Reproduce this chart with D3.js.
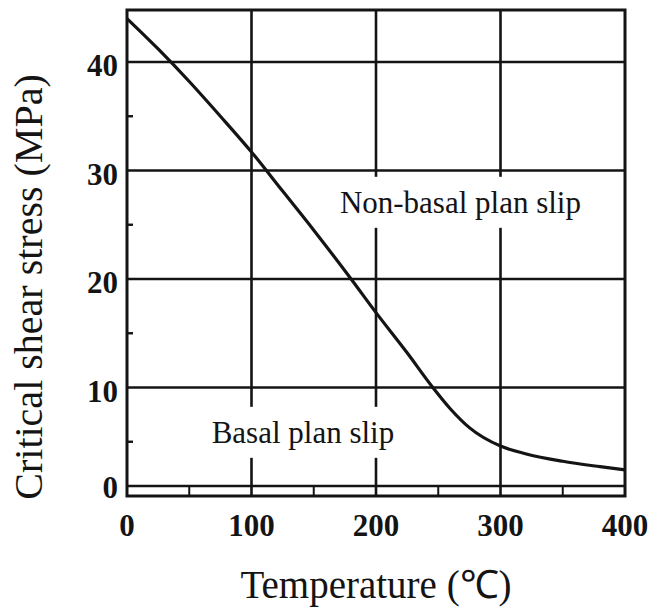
<!DOCTYPE html>
<html>
<head>
<meta charset="utf-8">
<script src="https://cdn.jsdelivr.net/npm/d3@7"></script>
<style>
  html, body { margin: 0; padding: 0; background: #fff; }
  svg { display: block; }
</style>
</head>
<body>
<svg id="chart" width="654" height="611"></svg>
<script>
// Critical resolved shear stress vs. temperature
const temperature = [0, 25, 50, 75, 100, 125, 150, 180, 200, 225, 245, 260, 275, 300, 320, 350, 380, 400];
const shearStress = [44.0, 41.2, 38.2, 35.0, 31.7, 28.1, 24.5, 20.0, 16.9, 13.2, 10.1, 8.0, 6.3, 4.6, 3.9, 3.2, 2.7, 2.4];

const xTicks = [0, 100, 200, 300, 400];
const xMinorTicks = [50, 150, 250, 350];
const yTicks = [0, 10, 20, 30, 40];
const yGrid = [10, 20, 30, 40];
const yMinorTicks = [5, 15, 25, 35];

const xTitle = "Temperature (\u2103)";
const yTitle = "Critical shear stress (MPa)";
// region labels anchored at (temperature, stress) of their left baseline point
const regionLabels = [
  { text: "Non-basal plan slip", t: 171, s: 26.1 },
  { text: "Basal plan slip", t: 68, s: 4.9 }
];

const ink = "#141414";
const serif = "'Liberation Serif', 'Times New Roman', serif";

const svg = d3.select("#chart");
const plot = { left: 127, right: 625, top: 10, bottom: 496 };

const x = d3.scaleLinear().domain([0, 400]).range([plot.left, plot.right]);
const y = d3.scaleLinear().domain([0, 40]).range([plot.bottom, 62]);
const ruleOffset = 10; // inner rule drawn just above the bottom frame
const ruleY = plot.bottom - ruleOffset;

const g = svg.append("g");

// horizontal grid lines
g.selectAll("line.hgrid").data(yGrid).join("line")
  .attr("x1", plot.left).attr("x2", plot.right)
  .attr("y1", d => y(d)).attr("y2", d => y(d))
  .attr("stroke", ink).attr("stroke-width", 2.6);

// vertical grid lines
g.selectAll("line.vgrid").data(xTicks.slice(1, -1)).join("line")
  .attr("x1", d => x(d)).attr("x2", d => x(d))
  .attr("y1", plot.top).attr("y2", plot.bottom)
  .attr("stroke", ink).attr("stroke-width", 2.6);

// inner rule and minor ticks along the bottom
g.append("line")
  .attr("x1", plot.left).attr("x2", plot.right)
  .attr("y1", ruleY).attr("y2", ruleY)
  .attr("stroke", ink).attr("stroke-width", 2.6);
g.selectAll("line.xminor").data(xMinorTicks).join("line")
  .attr("x1", d => x(d)).attr("x2", d => x(d))
  .attr("y1", ruleY).attr("y2", plot.bottom)
  .attr("stroke", ink).attr("stroke-width", 2);

// minor ticks on the left edge
g.selectAll("line.yminor").data(yMinorTicks).join("line")
  .attr("x1", plot.left).attr("x2", plot.left + 6)
  .attr("y1", d => y(d)).attr("y2", d => y(d))
  .attr("stroke", ink).attr("stroke-width", 2.4);

// region labels on white patches that interrupt the grid
regionLabels.forEach(lab => {
  const t = g.append("text")
    .attr("x", x(lab.t)).attr("y", y(lab.s))
    .attr("font-family", serif).attr("font-size", 31)
    .attr("fill", ink)
    .text(lab.text);
  const bb = t.node().getBBox();
  g.insert("rect", () => t.node())
    .attr("x", bb.x - 6).attr("y", bb.y - 8)
    .attr("width", bb.width + 12).attr("height", bb.height + 16)
    .attr("fill", "#fff");
});

// frame
g.append("rect")
  .attr("x", plot.left).attr("y", plot.top)
  .attr("width", plot.right - plot.left).attr("height", plot.bottom - plot.top)
  .attr("fill", "none").attr("stroke", ink).attr("stroke-width", 3);

// the curve
const line = d3.line()
  .x((d, i) => x(temperature[i]))
  .y(d => y(d))
  .curve(d3.curveMonotoneX);
g.append("path")
  .datum(shearStress)
  .attr("d", line)
  .attr("fill", "none").attr("stroke", ink).attr("stroke-width", 3.2)
  .attr("stroke-linejoin", "round");

// tick labels
g.selectAll("text.xt").data(xTicks).join("text")
  .attr("x", d => x(d)).attr("y", 536)
  .attr("text-anchor", "middle")
  .attr("font-family", serif).attr("font-weight", "bold").attr("font-size", 31)
  .attr("fill", ink)
  .text(d => d);

g.selectAll("text.yt").data(yTicks).join("text")
  .attr("x", 118)
  .attr("y", d => (d === 0 ? ruleY + 12 : y(d) + 14))
  .attr("text-anchor", "end")
  .attr("font-family", serif).attr("font-weight", "bold").attr("font-size", 31)
  .attr("fill", ink)
  .text(d => d);

// axis titles
svg.append("text")
  .attr("x", (plot.left + plot.right) / 2).attr("y", 598)
  .attr("text-anchor", "middle")
  .attr("font-family", serif).attr("font-size", 39)
  .attr("fill", ink)
  .text(xTitle);

svg.append("text")
  .attr("transform", "translate(42,287) rotate(-90)")
  .attr("text-anchor", "middle")
  .attr("font-family", serif).attr("font-size", 40)
  .attr("fill", ink)
  .text(yTitle);
</script>
</body>
</html>
